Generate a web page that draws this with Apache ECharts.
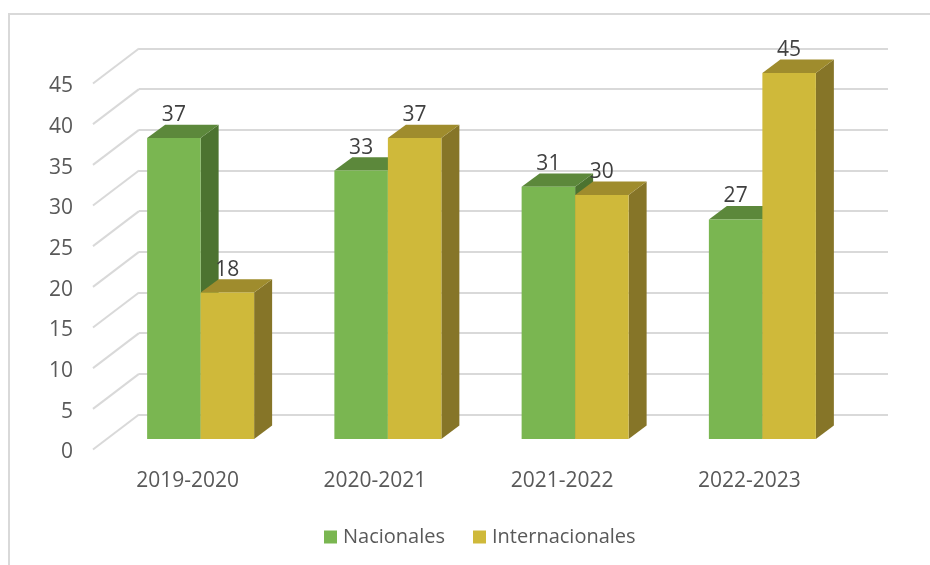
<!DOCTYPE html>
<html>
<head>
<meta charset="utf-8">
<style>
  html, body { margin: 0; padding: 0; background: #fff; }
  #main { width: 930px; height: 565px; }
</style>
</head>
<body>
<div id="main"></div>
<script src="https://cdn.jsdelivr.net/npm/echarts@6/dist/echarts.min.js"></script>
<script>
const categories = ["2019-2020", "2020-2021", "2021-2022", "2022-2023"];
const nacionales = [37, 33, 31, 27];
const internacionales = [18, 37, 30, 45];
const yTicks = [0, 5, 10, 15, 20, 25, 30, 35, 40, 45];

// the gridlines sit on the back wall, the bars stand on the floor in front of it
const floorDx = -46, floorDy = 35;
const barFrontDx = -32, barFrontDy = 24.5;
const barDepthX = 18, barDepthY = 13.4;
const gridColor = "#d9d9d9";

function poly(points, color, z2) {
  return { type: "polygon", shape: { points: points }, style: { fill: color }, z2: z2 };
}

// side: -1 left bar of the pair, 0 right bar of the pair
function bar3d(side, front, top, right) {
  return function (params, api) {
    const p = api.coord([api.value(0), api.value(1)]);
    const p0 = api.coord([api.value(0), 0]);
    const w = api.size([1, 0])[0] * 0.2857;
    const x0 = p[0] + barFrontDx + side * w;
    const x1 = x0 + w;
    const yTop = p[1] + barFrontDy;
    const yBot = p0[1] + barFrontDy;
    return {
      type: "group",
      children: [
        poly([[x1, yTop], [x1 + barDepthX, yTop - barDepthY], [x1 + barDepthX, yBot - barDepthY], [x1, yBot]], right, 1),
        poly([[x0, yTop], [x0 + barDepthX, yTop - barDepthY], [x1 + barDepthX, yTop - barDepthY], [x1, yTop]], top, 1),
        poly([[x0, yTop], [x1, yTop], [x1, yBot], [x0, yBot]], front, 2),
        {
          type: "text",
          z2: 10,
          style: {
            text: String(api.value(1)),
            x: (x0 + x1) / 2,
            y: p[1] + 1.5,
            align: "center",
            verticalAlign: "middle",
            fill: "#404040",
            font: "21px 'Open Sans'"
          }
        }
      ]
    };
  };
}

const chart = echarts.init(document.getElementById("main"));
chart.setOption({
  backgroundColor: "#fff",
  animation: false,
  graphic: [
    {
      type: "polyline",
      silent: true,
      shape: { points: [[9, 565], [9, 14], [930, 14]] },
      style: { stroke: gridColor, lineWidth: 2, fill: null }
    }
  ],
  legend: {
    left: 319,
    top: 522,
    icon: "rect",
    itemWidth: 13,
    itemHeight: 13,
    itemGap: 28,
    textStyle: { fontFamily: "Open Sans", fontSize: 20, color: "#595959", padding: [0, 0, 0, 1] },
    data: ["Nacionales", "Internacionales"]
  },
  grid: [
    { left: 139, top: 48.5, width: 749, height: 366 },
    { left: 94, top: 86.5, width: 749, height: 366 }
  ],
  xAxis: [
    { type: "category", gridIndex: 0, data: categories, axisLine: { show: false }, axisTick: { show: false }, axisLabel: { show: false } },
    {
      type: "category",
      gridIndex: 1,
      data: categories,
      axisLine: { show: false },
      axisTick: { show: false },
      axisLabel: { margin: 18, fontFamily: "Open Sans", fontSize: 21, color: "#595959" }
    }
  ],
  yAxis: [
    {
      type: "value",
      gridIndex: 0,
      min: 0,
      max: 45,
      interval: 5,
      axisLine: { show: false },
      axisTick: { show: false },
      axisLabel: { show: false },
      splitLine: { lineStyle: { color: gridColor, width: 2 } }
    },
    {
      type: "value",
      gridIndex: 1,
      min: 0,
      max: 45,
      interval: 5,
      axisLine: { show: false },
      axisTick: { show: false },
      splitLine: { show: false },
      axisLabel: { margin: 21, fontFamily: "Open Sans", fontSize: 21, color: "#595959" }
    }
  ],
  series: [
    {
      // diagonal part of the gridlines, from the wall to the tick labels
      type: "custom",
      xAxisIndex: 0,
      yAxisIndex: 0,
      silent: true,
      data: yTicks.map(t => [0, t]),
      renderItem(params, api) {
        const p = api.coord([0, api.value(1)]);
        const x = params.coordSys.x;
        return {
          type: "line",
          shape: { x1: x, y1: p[1], x2: x + floorDx, y2: p[1] + floorDy },
          style: { stroke: gridColor, lineWidth: 2 }
        };
      }
    },
    {
      name: "Nacionales",
      type: "custom",
      xAxisIndex: 0,
      yAxisIndex: 0,
      itemStyle: { color: "#7ab651" },
      data: nacionales.map((v, i) => [i, v]),
      renderItem: bar3d(-1, "#7ab651", "#5c883b", "#4c7330")
    },
    {
      name: "Internacionales",
      type: "custom",
      xAxisIndex: 0,
      yAxisIndex: 0,
      itemStyle: { color: "#cfb93a" },
      data: internacionales.map((v, i) => [i, v]),
      renderItem: bar3d(0, "#cfb93a", "#9f8c2d", "#867528")
    }
  ]
});
</script>
</body>
</html>
